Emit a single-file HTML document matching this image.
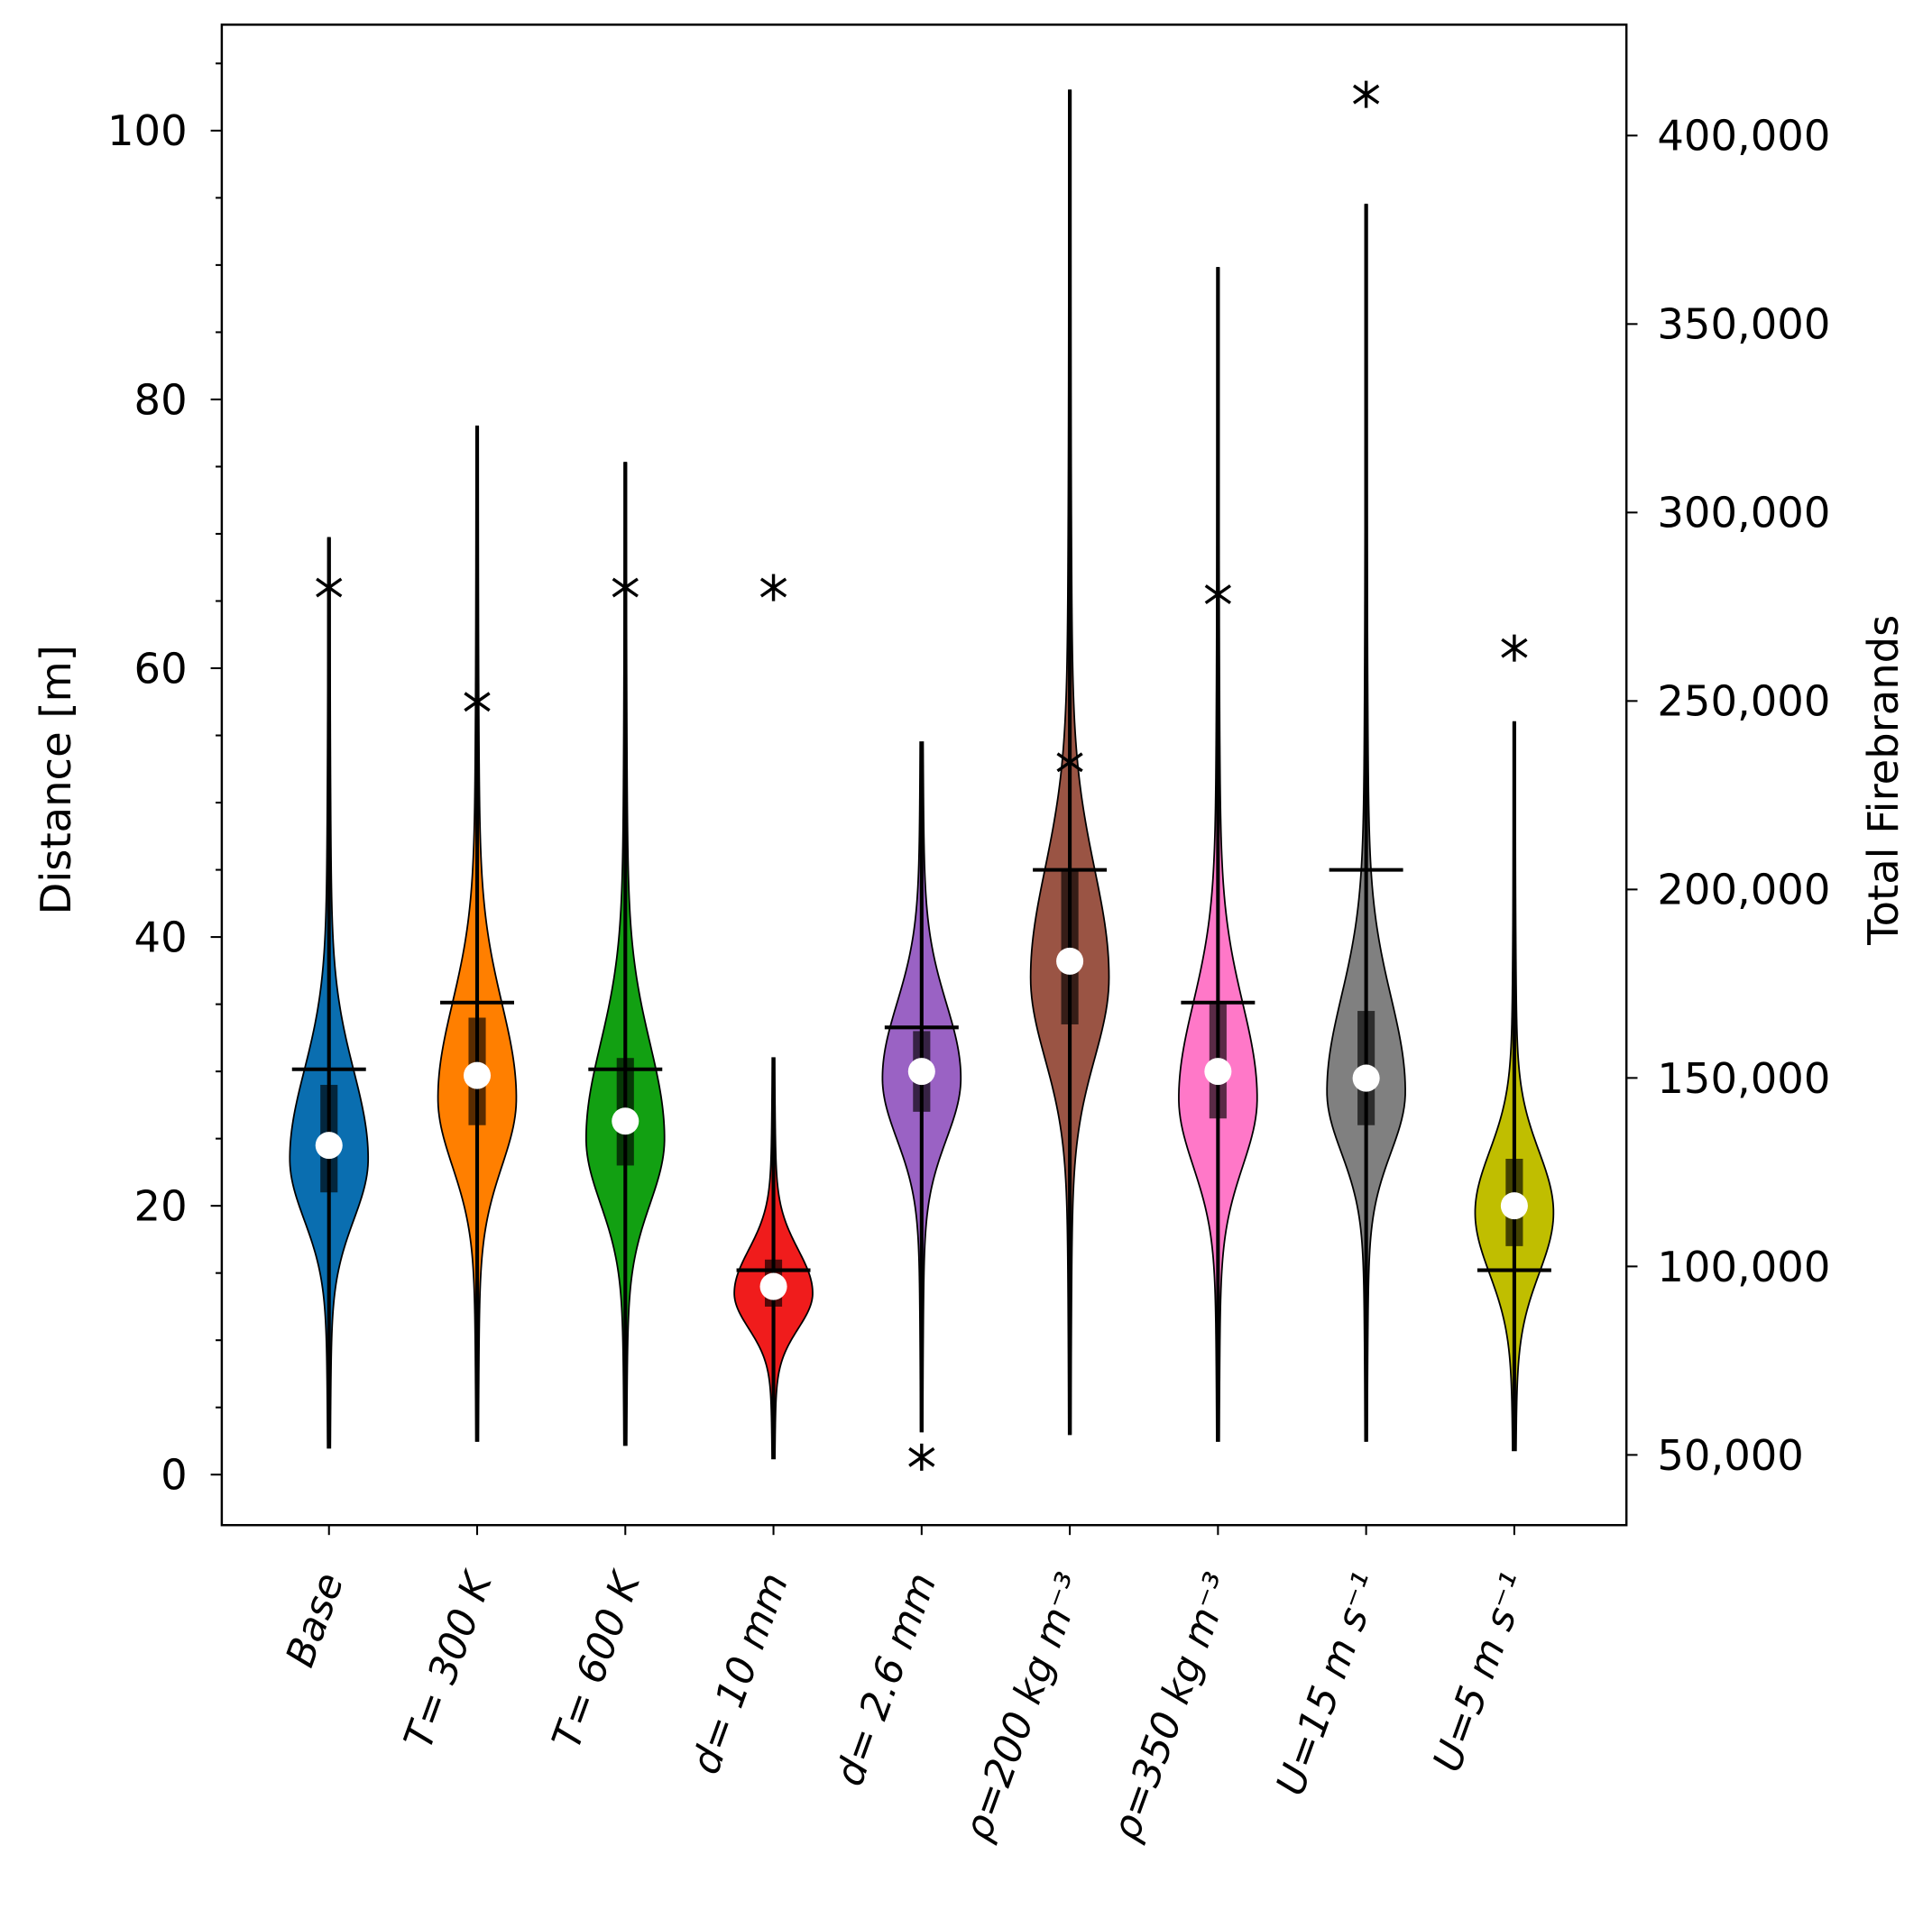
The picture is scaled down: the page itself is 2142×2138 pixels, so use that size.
<!DOCTYPE html>
<html><head><meta charset="utf-8">
<style>
html,body{margin:0;padding:0;background:#fff;}
svg{display:block;font-family:"DejaVu Sans","Liberation Sans",sans-serif;}
</style></head>
<body>
<svg id="chart" width="2142" height="2138" viewBox="0 0 1568 1565" xmlns="http://www.w3.org/2000/svg">
<g id="marks"></g>
<g id="axes"></g>
</svg>
<script>
const categories = ["Base","T= 300 K","T= 600 K","d= 10 mm","d= 2.6 mm","ρ=200 kg m⁻³","ρ=350 kg m⁻³","U=15 m s⁻¹","U=5 m s⁻¹"];
const colors = ["#0a6eb0","#ff7f00","#12a012","#f01c1c","#9a62c4","#9a5444","#ff78c8","#808080","#c0be00"];
const minVals = [2, 2.5, 2.2, 1.2, 3.2, 3, 2.5, 2.5, 1.8];
const maxVals = [69.7, 78, 75.3, 31, 54.5, 103, 89.8, 94.5, 56];
const medians = [24.5, 29.7, 26.3, 14, 30, 38.2, 30, 29.5, 20];
const q1Vals = [21, 26, 23, 12.5, 27, 33.5, 26.5, 26, 17];
const q3Vals = [29, 34, 31, 16, 33, 45, 35, 34.5, 23.5];
const starVals = [66, 57.5, 66, 66, 1.3, 53, 65.5, 102.7, 61.5];
const totalFirebrands = [152300, 170000, 152300, 99000, 163400, 205200, 170000, 205200, 99000];
const modes = [23.5, 28, 25, 13.5, 29.5, 37, 28, 28.5, 19.5];
const sigmaUp = [6.5, 7, 7, 3.2, 5.5, 8, 7, 7, 4.5];
const sigmaDown = [4.5, 5, 4.8, 2.6, 4.5, 6, 5, 4.5, 4.5];
const leftTicks = [0,20,40,60,80,100];
const rightTicks = [50000,100000,150000,200000,250000,300000,350000,400000];
const rightTickLabels = ["50,000","100,000","150,000","200,000","250,000","300,000","350,000","400,000"];

const NS="http://www.w3.org/2000/svg";
const PL=180, PR=1320, PT=20, PB=1238;
function yL(v){return 1197 - v*10.91;}
function yR(v){return 1181 - (v-50000)/50000*153;}
function xC(i){return 267 + i*120.25;}
const HW=31;
function mk(tag,attrs,parent){const e=document.createElementNS(NS,tag);for(const k in attrs)e.setAttribute(k,attrs[k]);parent.appendChild(e);return e;}
const marks=document.getElementById('marks'), axes=document.getElementById('axes');

categories.forEach((c,i)=>{
  const x=xC(i);
  const g=mk('g',{},marks);
  
  
  let right=[],left=[];
  const n=200;
  for(let k=0;k<=n;k++){
    const v=minVals[i]+(maxVals[i]-minVals[i])*k/n;
    const s=v>=modes[i]?sigmaUp[i]:sigmaDown[i];
    const z=(v-modes[i])/s;
    const w=HW*(0.93*Math.exp(-0.5*z*z)+0.07*Math.exp(-0.5*z*z/6))+0.8;
    right.push((x+w).toFixed(2)+','+yL(v).toFixed(2));
    left.unshift((x-w).toFixed(2)+','+yL(v).toFixed(2));
  }
  const body=mk('polygon',{points:right.concat(left).join(' '),fill:colors[i],stroke:'#000','stroke-width':1.3},g);
  
  
  const wl=mk('line',{x1:x,x2:x,y1:yL(minVals[i]),y2:yL(maxVals[i]),stroke:'#000','stroke-width':3},g);
  
  
  const bx=mk('rect',{x:x-7,width:14,y:yL(q3Vals[i]),height:yL(q1Vals[i])-yL(q3Vals[i]),fill:'#000','fill-opacity':0.65},g);
  
  
  const hl=mk('line',{x1:x-30,x2:x+30,y1:yR(totalFirebrands[i]),y2:yR(totalFirebrands[i]),stroke:'#000','stroke-width':3},g);
  
  
  const md=mk('circle',{cx:x,cy:yL(medians[i]),r:11,fill:'#fff'},g);
  
  
  const sy=yL(starVals[i]);
  const st=mk('g',{stroke:'#000','stroke-width':2.5},g);
  
  
  mk('line',{x1:x,x2:x,y1:sy-11,y2:sy+11},st);
  mk('line',{x1:x-10,x2:x+10,y1:sy-7,y2:sy+7},st);
  mk('line',{x1:x-10,x2:x+10,y1:sy+7,y2:sy-7},st);
  mk('line',{x1:x,x2:x,y1:PB,y2:PB+8,stroke:'#000','stroke-width':1.5},axes);
  const t=mk('text',{x:0,y:0,'font-size':32,'font-style':'italic','text-anchor':'end',transform:`translate(${x+12},${PB+44}) rotate(-70)`},axes);
  
  
  t.textContent=c;
});

const frame=mk('rect',{x:PL,y:PT,width:PR-PL,height:PB-PT,fill:'none',stroke:'#000','stroke-width':1.8},axes);


for(let v=0;v<=105;v+=5){
  const major=leftTicks.includes(v);
  mk('line',{x1:PL,x2:PL-(major?9:5),y1:yL(v),y2:yL(v),stroke:'#000','stroke-width':1.5},axes);
}
leftTicks.forEach(v=>{
  const t=mk('text',{x:PL-28,y:yL(v)+12,'font-size':34,'text-anchor':'end'},axes);
  
  
  t.textContent=v;
});
rightTicks.forEach((v,j)=>{
  mk('line',{x1:PR,x2:PR+9,y1:yR(v),y2:yR(v),stroke:'#000','stroke-width':1.5},axes);
  const t=mk('text',{x:PR+25,y:yR(v)+12,'font-size':34},axes);
  
  
  t.textContent=rightTickLabels[j];
});
const yt=mk('text',{x:0,y:0,'font-size':34,'text-anchor':'middle',transform:'translate(57,633) rotate(-90)'},axes);


yt.textContent='Distance [m]';
const rt=mk('text',{x:0,y:0,'font-size':34,'text-anchor':'middle',transform:'translate(1540,633) rotate(-90)'},axes);


rt.textContent='Total Firebrands';
</script>
</body></html>
